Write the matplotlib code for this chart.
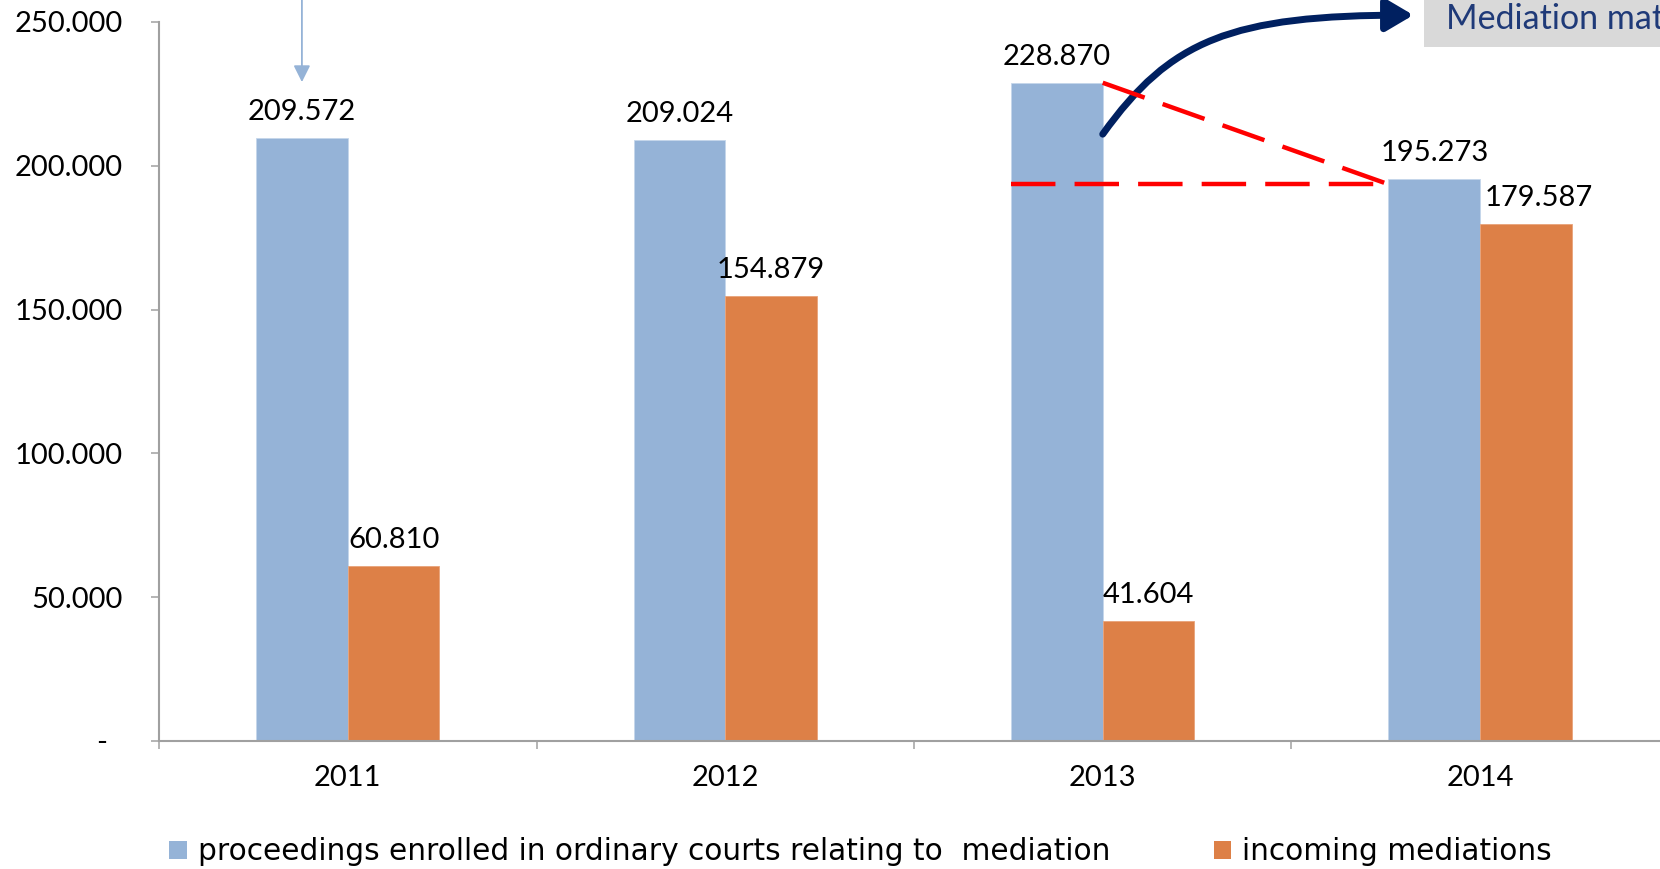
import matplotlib
matplotlib.use('Agg')
import matplotlib.pyplot as plt
from matplotlib.patches import Rectangle, FancyArrowPatch, Patch
from matplotlib.path import Path
import numpy as np

plt.rcParams['font.family'] = ['Lato', 'DejaVu Sans']

years = ['2011', '2012', '2013', '2014']
proceedings = [209572, 209024, 228870, 195273]
incoming = [60810, 154879, 41604, 179587]
yticks = [0, 50000, 100000, 150000, 200000, 250000]
legend_labels = ['proceedings enrolled in ordinary courts relating to  mediation',
                 'incoming mediations']

BLUE = '#95B3D7'
ORANGE = '#DD8047'
AXIS = '#A0A0A0'
NAVY = '#002060'


def fmt(v):
    if v == 0:
        return '-  '
    return f'{v:,.0f}'.replace(',', '.')


def main():
    fig = plt.figure(figsize=(16.6, 8.69), dpi=100)
    ax = fig.add_axes([0.0958, 0.1473, 0.9096, 0.8274])

    x = np.arange(len(years))
    w = 0.243
    ax.bar(x - w / 2, proceedings, w, color=BLUE, edgecolor='#C5D6EA', linewidth=0.6)
    ax.bar(x + w / 2, incoming, w, color=ORANGE, edgecolor='#E9A37A', linewidth=0.6)

    for i in range(len(years)):
        ax.annotate(fmt(proceedings[i]), (x[i] - w / 2, proceedings[i]), xytext=(0, 13),
                    textcoords='offset points', ha='center', va='baseline', fontsize=21)
        dx = 9 if i == 3 else 0
        ax.annotate(fmt(incoming[i]), (x[i] + w / 2, incoming[i]), xytext=(dx, 13),
                    textcoords='offset points', ha='center', va='baseline', fontsize=21)

    ax.set_xlim(-0.5, len(years) - 0.5)
    ax.set_ylim(0, 250000)
    ax.set_yticks(yticks)
    ax.set_yticklabels([fmt(v) for v in yticks])
    ax.set_xticks(x)
    ax.set_xticklabels(years)
    ax.set_xticks(np.arange(len(years) + 1) - 0.5, minor=True)

    for s in ['top', 'right']:
        ax.spines[s].set_visible(False)
    for s in ['left', 'bottom']:
        ax.spines[s].set_color(AXIS)
        ax.spines[s].set_linewidth(1.5)
    ax.tick_params(axis='y', length=6, width=1.1, color=AXIS, pad=20, labelsize=21)
    ax.tick_params(axis='x', which='major', length=0, pad=17, labelsize=21)
    ax.tick_params(axis='x', which='minor', length=6, width=1.1, color=AXIS)

    # red dashed comparison lines 2013 -> 2014 (drawn a bit under the 2014 bar top)
    low = proceedings[3] - 1700
    ax.plot([x[2], x[3] - w], [proceedings[2], low], color='#FF0000',
            lw=3.2, dashes=(10, 4.3), clip_on=False)
    ax.plot([x[2] - w, x[3] - w], [low, low], color='#FF0000',
            lw=3.2, dashes=(10, 4.3), clip_on=False)

    # thin arrow over 2011
    ax.annotate('', xy=(x[0] - w / 2, 229100), xytext=(x[0] - w / 2, 262000),
                arrowprops=dict(arrowstyle='-|>,head_length=0.5,head_width=0.25',
                                color=BLUE, lw=1.3, mutation_scale=20,
                                shrinkA=0, shrinkB=0),
                annotation_clip=False)

    # curved navy arrow
    path = Path([(2.0, 211000), (2.179, 243700), (2.338, 252400), (2.823, 252400)],
                [Path.MOVETO, Path.CURVE4, Path.CURVE4, Path.CURVE4])
    arr = FancyArrowPatch(path=path, arrowstyle='-|>,head_length=0.83,head_width=0.49',
                          mutation_scale=20, lw=5, color=NAVY, clip_on=False)
    ax.add_patch(arr)

    # gray title box at top right
    fig.patches.append(Rectangle((0.858, 0.946), 0.2, 0.06, transform=fig.transFigure,
                                 facecolor='#D9D9D9', edgecolor='none'))
    fig.text(0.871, 0.967, 'Mediation matters', color='#1F3A78', fontsize=24.5,
             va='baseline', ha='left')

    handles = [Patch(facecolor=BLUE), Patch(facecolor=ORANGE)]
    fig.legend(handles, legend_labels, loc='center left', bbox_to_anchor=(0.1018, 0.0196),
               ncol=2, frameon=False, prop={'family': 'DejaVu Sans', 'size': 21.3},
               borderpad=0, borderaxespad=0,
               handlelength=0.6, handleheight=0.6, handletextpad=0.37, columnspacing=3.5)

    fig.savefig('out.png', dpi=100)


if __name__ == '__main__':
    main()
